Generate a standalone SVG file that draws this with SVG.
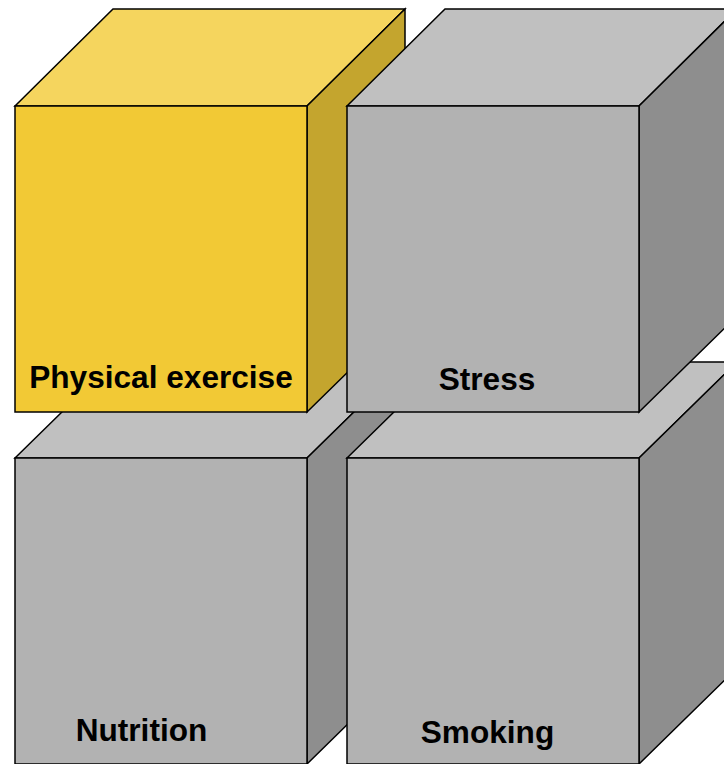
<svg xmlns="http://www.w3.org/2000/svg" width="724" height="764" viewBox="0 0 724 764">
<style>
  .e{stroke:#000;stroke-width:1.5;stroke-linejoin:miter}
  .gt{fill:#C0C0C0}.gf{fill:#B2B2B2}.gs{fill:#8E8E8E}
  .yt{fill:#F5D55E}.yf{fill:#F2C935}.ys{fill:#C4A52E}
  text{font-family:"Liberation Sans",Arial,sans-serif;font-weight:bold;font-size:31.6px;fill:#000;text-anchor:middle}
</style>
<rect width="724" height="764" fill="#fff"/>
<g id="connectors"/>
<g id="nutrition">
  <polygon class="e gt" points="15,458 113,362 405,362 307,458"/>
  <polygon class="e gs" points="307,458 405,362 405,668 307,764"/>
  <rect class="e gf" x="15" y="458" width="292" height="306"/>
  <text x="141.5" y="741">Nutrition</text>
</g>
<g id="smoking">
  <polygon class="e gt" points="347,458 445,362 737,362 639,458"/>
  <polygon class="e gs" points="639,458 737,362 737,668 639,764"/>
  <rect class="e gf" x="347" y="458" width="292" height="306"/>
  <text x="487.5" y="743">Smoking</text>
</g>
<g id="physical-exercise">
  <polygon class="e yt" points="15,106 113,9 405,9 307,106"/>
  <polygon class="e ys" points="307,106 405,9 405,316 307,412"/>
  <rect class="e yf" x="15" y="106" width="292" height="306"/>
  <text x="161" y="388">Physical exercise</text>
</g>
<g id="stress">
  <polygon class="e gt" points="347,106 445,9 737,9 639,106"/>
  <polygon class="e gs" points="639,106 737,9 737,316 639,412"/>
  <rect class="e gf" x="347" y="106" width="292" height="306"/>
  <text x="487" y="390">Stress</text>
</g>
</svg>
